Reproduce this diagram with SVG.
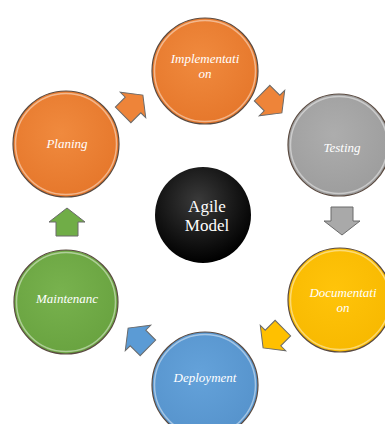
<svg xmlns="http://www.w3.org/2000/svg" width="385" height="424" viewBox="0 0 385 424">
<defs>
<radialGradient id="gOrange" cx="45%" cy="40%" r="65%"><stop offset="0" stop-color="#F08A3E"/><stop offset="1" stop-color="#E5762A"/></radialGradient>
<radialGradient id="gGray" cx="45%" cy="40%" r="65%"><stop offset="0" stop-color="#ADADAD"/><stop offset="1" stop-color="#9C9C9C"/></radialGradient>
<radialGradient id="gYellow" cx="45%" cy="40%" r="65%"><stop offset="0" stop-color="#FFC40A"/><stop offset="1" stop-color="#F7B800"/></radialGradient>
<radialGradient id="gBlue" cx="45%" cy="40%" r="65%"><stop offset="0" stop-color="#64A2DA"/><stop offset="1" stop-color="#5592CB"/></radialGradient>
<radialGradient id="gGreen" cx="45%" cy="40%" r="65%"><stop offset="0" stop-color="#78B24E"/><stop offset="1" stop-color="#68A23F"/></radialGradient>
<radialGradient id="gBlack" cx="45%" cy="35%" r="65%"><stop offset="0" stop-color="#3A3A3A"/><stop offset="0.7" stop-color="#111"/><stop offset="1" stop-color="#000"/></radialGradient>
<path id="arr" d="M-14,-11 L0,-11 L0,-18 L14,0 L0,18 L0,11 L-14,11 Z"/>
</defs>
<style>
.c{stroke:#5a4a40;stroke-width:1.2}
.hl{fill:none;stroke:#fff;stroke-opacity:0.45;stroke-width:1.5}
.t{font-family:"Liberation Serif",serif;font-style:italic;font-size:13px;fill:#fff;text-anchor:middle}
.a{font-family:"Liberation Serif",serif;font-size:17px;fill:#fff;text-anchor:middle}
.ar{stroke-width:1;stroke:#6b6b6b}
</style>
<rect width="385" height="424" fill="#fff"/>
<g id="connectors">
<use href="#arr" transform="translate(133,105) rotate(-45)" fill="#EE8439" class="ar"/>
<use href="#arr" transform="translate(272,103) rotate(45)" fill="#EE8439" class="ar"/>
<use href="#arr" transform="translate(342,221) rotate(90)" fill="#A9A9A9" class="ar"/>
<use href="#arr" transform="translate(273,338) rotate(135)" fill="#FFC000" class="ar"/>
<use href="#arr" transform="translate(138,338) rotate(-135)" fill="#5B9BD5" class="ar"/>
<use href="#arr" transform="translate(67,222) rotate(-90)" fill="#70AD47" class="ar"/>
</g>
<g id="implementation">
<circle cx="205" cy="71" r="53" fill="url(#gOrange)" class="c"/>
<circle cx="205" cy="71" r="50.5" class="hl"/>
<text x="205" y="63" class="t">Implementati</text>
<text x="205" y="78" class="t">on</text>
</g>
<g id="testing">
<circle cx="339" cy="145" r="51" fill="url(#gGray)" class="c"/>
<circle cx="339" cy="145" r="48.5" class="hl"/>
<text x="342" y="152" class="t">Testing</text>
</g>
<g id="documentation">
<circle cx="340" cy="300" r="52" fill="url(#gYellow)" class="c"/>
<circle cx="340" cy="300" r="49.5" class="hl"/>
<text x="343" y="297" class="t">Documentati</text>
<text x="343" y="312" class="t">on</text>
</g>
<g id="deployment">
<circle cx="205" cy="385" r="53" fill="url(#gBlue)" class="c"/>
<circle cx="205" cy="385" r="50.5" class="hl"/>
<text x="205" y="382" class="t">Deployment</text>
</g>
<g id="maintenance">
<circle cx="66" cy="302" r="52" fill="url(#gGreen)" class="c"/>
<circle cx="66" cy="302" r="49.5" class="hl"/>
<text x="67" y="303" class="t">Maintenanc</text>
</g>
<g id="planing">
<circle cx="66" cy="144" r="53" fill="url(#gOrange)" class="c"/>
<circle cx="66" cy="144" r="50.5" class="hl"/>
<text x="67" y="148" class="t">Planing</text>
</g>
<g id="agile">
<circle cx="203" cy="215" r="48" fill="url(#gBlack)"/>
<text x="207" y="212" class="a">Agile</text>
<text x="207" y="231" class="a">Model</text>
</g>
</svg>
